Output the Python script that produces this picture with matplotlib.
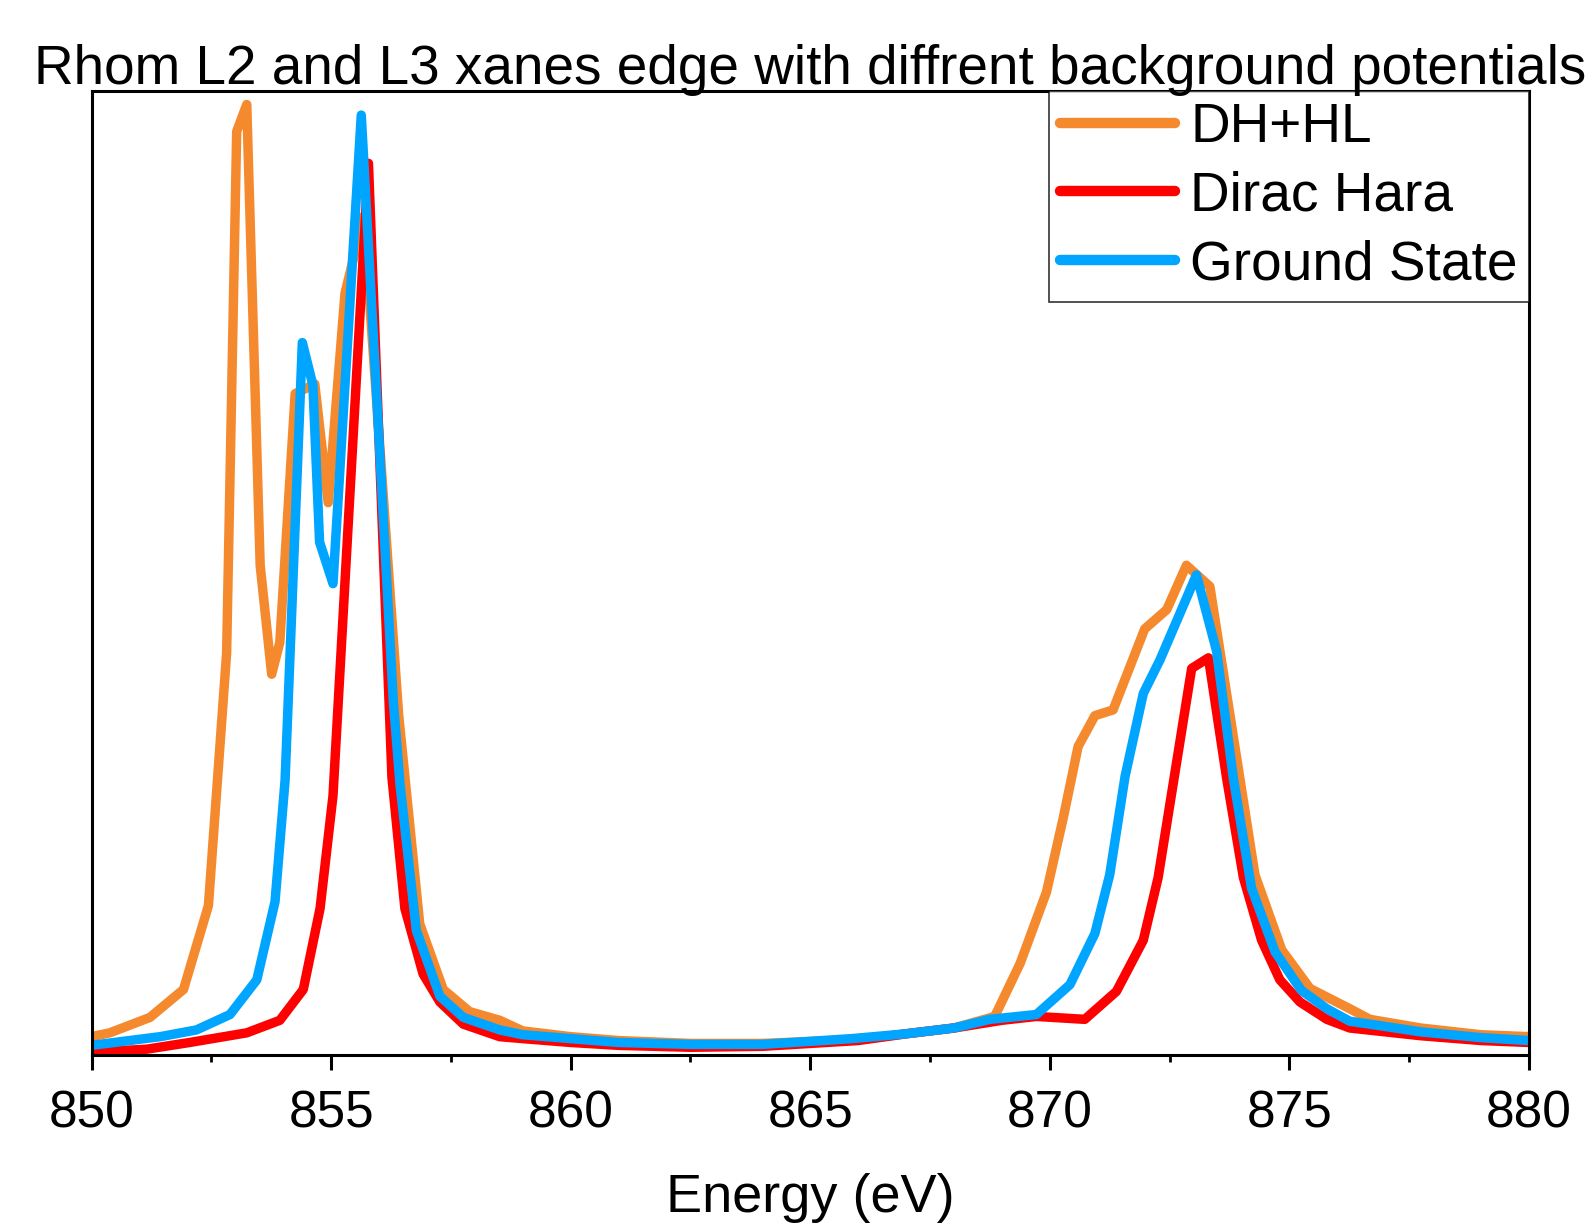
import matplotlib
matplotlib.use("Agg")
import matplotlib.pyplot as plt
from matplotlib.ticker import MultipleLocator

plt.rcParams['font.family'] = ['Liberation Sans', 'DejaVu Sans']

# DH+HL potential
energy_dhhl = [850.0, 850.38, 851.22, 851.92, 852.44, 852.82, 853.03, 853.24, 853.52,
               853.76, 853.93, 854.25, 854.66, 854.94, 855.29, 855.68, 856.41, 856.85,
               857.34, 857.89, 858.52, 859.0, 860.0, 861.0, 862.5, 864.0, 866.0, 867.0,
               868.0, 868.85, 869.38, 869.93, 870.28, 870.59, 870.94, 871.32, 871.98,
               872.44, 872.85, 873.34, 874.28, 874.84, 875.43, 876.26, 876.68, 877.74,
               879.0, 880.0]
mu_dhhl = [0.019, 0.023, 0.039, 0.068, 0.155, 0.417, 0.958, 0.986, 0.508,
           0.395, 0.428, 0.686, 0.696, 0.573, 0.790, 0.870, 0.353, 0.136,
           0.068, 0.045, 0.036, 0.025, 0.019, 0.015, 0.012, 0.012, 0.016, 0.022,
           0.028, 0.040, 0.095, 0.169, 0.246, 0.320, 0.352, 0.358, 0.442,
           0.462, 0.508, 0.486, 0.187, 0.109, 0.069, 0.048, 0.037, 0.028,
           0.021, 0.019]

# Dirac Hara potential
energy_dh = [850.0, 851.15, 852.05, 853.24, 853.93, 854.42, 854.77, 855.04, 855.78,
             856.27, 856.54, 856.92, 857.27, 857.76, 858.52, 859.0, 860.0, 861.0,
             862.5, 864.0, 866.0, 867.0, 868.0, 869.0, 869.72, 870.73, 871.39,
             871.95, 872.26, 872.96, 873.31, 873.69, 874.04, 874.42, 874.8, 875.22,
             875.78, 876.26, 877.74, 879.0, 880.0]
mu_dh = [0.003, 0.006, 0.013, 0.023, 0.036, 0.068, 0.152, 0.269, 0.925,
         0.288, 0.152, 0.084, 0.055, 0.032, 0.019, 0.017, 0.013, 0.010,
         0.008, 0.009, 0.015, 0.022, 0.028, 0.036, 0.040, 0.037, 0.066,
         0.119, 0.184, 0.401, 0.412, 0.287, 0.184, 0.119, 0.078, 0.055,
         0.037, 0.028, 0.020, 0.015, 0.013]

# Ground state potential
energy_gs = [850.0, 851.43, 852.19, 852.89, 853.45, 853.83, 854.04, 854.40, 854.62,
             854.76, 855.04, 855.63, 856.3, 856.44, 856.78, 857.27, 857.76, 858.52,
             859.0, 860.0, 861.0, 862.5, 864.0, 865.87, 867.0, 868.0, 868.75, 869.72,
             870.42, 870.94, 871.25, 871.57, 871.95, 872.3, 873.06, 873.48, 873.83,
             874.21, 874.7, 875.25, 875.78, 876.26, 876.68, 877.74, 879.0, 880.0]
mu_gs = [0.010, 0.019, 0.026, 0.042, 0.078, 0.159, 0.285, 0.739, 0.695,
         0.532, 0.489, 0.975, 0.366, 0.280, 0.129, 0.061, 0.039, 0.026,
         0.021, 0.017, 0.013, 0.011, 0.011, 0.017, 0.022, 0.028, 0.037, 0.042,
         0.073, 0.126, 0.187, 0.289, 0.375, 0.410, 0.498, 0.419, 0.287,
         0.173, 0.107, 0.067, 0.048, 0.035, 0.032, 0.024, 0.018, 0.015]

series = [
    (energy_dhhl, mu_dhhl, "DH+HL", "#F5892E"),
    (energy_dh, mu_dh, "Dirac Hara", "#FF0000"),
    (energy_gs, mu_gs, "Ground State", "#00A5FF"),
]

W, H = 1591, 1224
fig = plt.figure(figsize=(W / 100, H / 100), dpi=100)
left, right, top, bottom = 91.5, 1529, 91, 1055
ax = fig.add_axes([left / W, 1 - bottom / H, (right - left) / W, (bottom - top) / H])

for x, y, label, color in series:
    ax.plot(x, y, color=color, lw=6.8, label=label,
            solid_joinstyle='round', solid_capstyle='round')

ax.set_xlim(850, 880)
ax.set_ylim(0, 1)
ax.xaxis.set_major_locator(MultipleLocator(5))
ax.xaxis.set_minor_locator(MultipleLocator(2.5))
ax.tick_params(axis='x', which='major', direction='out', length=11, width=2.2,
               labelsize=37, pad=14)
ax.tick_params(axis='x', which='minor', direction='out', length=5, width=2.0)
ax.set_yticks([])
for s in ax.spines.values():
    s.set_linewidth(2.2)

leg = ax.legend(loc='upper right', bbox_to_anchor=(1, 1), borderaxespad=0,
                fontsize=39.6, frameon=True, fancybox=False, edgecolor='black',
                borderpad=0.2, handlelength=2.1, handletextpad=0.28,
                labelspacing=0.3)
leg.get_frame().set_linewidth(1.2)
for h in leg.get_lines():
    h.set_linewidth(7.5)

cx = (left + right) / 2 / W
fig.text(cx, 1 - 84 / H, "Rhom L2 and L3 xanes edge with diffrent background potentials",
         ha='center', va='baseline', fontsize=39.5)
fig.text(cx, 1 - 1212 / H, "Energy (eV)", ha='center', va='baseline', fontsize=39)

fig.savefig("out.png", dpi=100)
